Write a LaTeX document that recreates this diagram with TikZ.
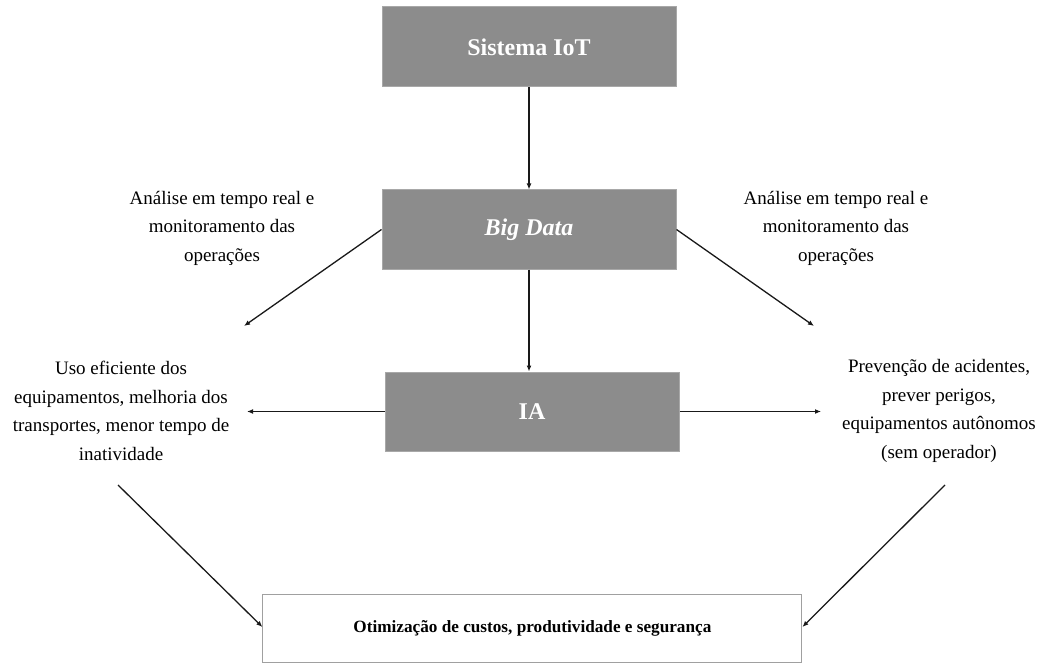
\documentclass[tikz,border=0pt]{standalone}
\usepackage{fontspec}
\setmainfont{Liberation Serif}
\usetikzlibrary{arrows.meta}
\definecolor{boxgray}{RGB}{140,140,140}
\definecolor{boxedge}{RGB}{168,168,168}
\definecolor{frameedge}{RGB}{160,160,160}
\definecolor{linecol}{RGB}{25,25,25}
\begin{document}
\begin{tikzpicture}[x=1pt,y=-1pt,
  graybox/.style={rectangle, fill=boxgray, draw=boxedge, line width=1pt,
    text=white, inner sep=0pt, minimum width=294pt, minimum height=79pt,
    font=\fontsize{24}{28}\selectfont\bfseries},
  resultbox/.style={rectangle, fill=white, draw=frameedge, line width=1pt,
    inner sep=0pt, minimum width=539pt, minimum height=68pt,
    font=\fontsize{17.2}{20}\selectfont\bfseries},
  note/.style={align=center, inner sep=0pt,
    font=\fontsize{19}{28.5}\selectfont},
  conn/.style={draw=linecol, line width=1.3pt,
    -{Latex[length=6pt,width=5pt]}}]
\useasboundingbox (0,0) rectangle (1047,663);

% main blocks
\node[graybox, minimum height=80pt] (iot) at (529,47) {Sistema IoT};
\node[graybox] (bigdata) at (529,229.5) {\itshape Big Data};
\node[graybox] (ia) at (532,411.5) {IA};
\node[resultbox] (result) at (532.4,628) {Otimização de custos, produtividade e segurança};

% side notes
\node[note] (noteTL) at (222,228) {Análise em tempo real e\\monitoramento das\\operações};
\node[note] (noteTR) at (836,228) {Análise em tempo real e\\monitoramento das\\operações};
\node[note] (noteL) at (121,411) {Uso eficiente dos\\equipamentos, melhoria dos\\transportes, menor tempo de\\inatividade};
\node[note] (noteR) at (939,411) {Prevenção de acidentes,\\prever perigos,\\equipamentos autônomos\\(sem operador)};

% free arrow ends
\coordinate (tipTL) at (244,326);
\coordinate (tipTR) at (814,326);
\coordinate (tipL) at (247,411.5);
\coordinate (tipR) at (821,411.5);
\coordinate (startBL) at (118,485);
\coordinate (startBR) at (945,485);

% connectors
\draw[conn] (iot.south) -- (bigdata.north);
\draw[conn] (bigdata.south) -- (bigdata.south |- ia.north);
\draw[conn] (bigdata.west) -- (tipTL);
\draw[conn] (bigdata.east) -- (tipTR);
\draw[conn] (ia.west) -- (tipL);
\draw[conn] (ia.east) -- (tipR);
\draw[conn] (startBL) -- (result.west |- 0,627);
\draw[conn] (startBR) -- (result.east |- 0,627);
\end{tikzpicture}
\end{document}
